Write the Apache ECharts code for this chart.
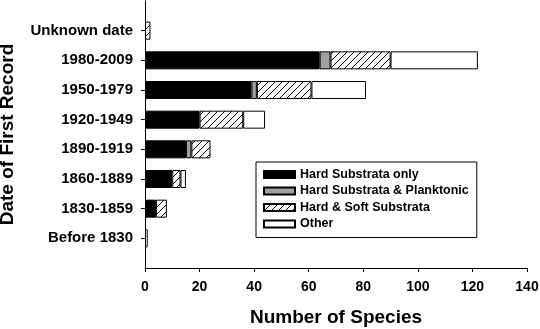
<!DOCTYPE html>
<html>
<head>
<meta charset="utf-8">
<script src="https://cdn.jsdelivr.net/npm/echarts@6/dist/echarts.min.js"></script>
<style>
  html, body { margin: 0; padding: 0; background: #fff; }
  #chart { width: 540px; height: 329px; }
</style>
</head>
<body>
<div id="chart"></div>
<script>
// categories bottom to top
const periods = ["Before 1830", "1830-1859", "1860-1889", "1890-1919", "1920-1949", "1950-1979", "1980-2009", "Unknown date"];
const hardOnly = [0, 4, 10, 15, 20, 39, 64, 0];
const hardPlanktonic = [0, 0, 0, 2, 0, 2, 4, 0];
const hardSoft = [0, 4, 3, 7, 16, 20, 22, 2];
const other = [1, 0, 2, 0, 8, 20, 32, 0];
const xTicks = [0, 20, 40, 60, 80, 100, 120, 140];

const font = "Liberation Sans, Arial, sans-serif";

// diagonal hatch fill
const makeHatch = () => {
  const s = 7;
  const c = document.createElement("canvas");
  c.width = s;
  c.height = s;
  const ctx = c.getContext("2d");
  ctx.fillStyle = "#fff";
  ctx.fillRect(0, 0, s, s);
  ctx.strokeStyle = "#000";
  ctx.lineWidth = 1;
  ctx.beginPath();
  ctx.moveTo(-1, s + 1); ctx.lineTo(s + 1, -1);
  ctx.moveTo(-1, 1); ctx.lineTo(1, -1);
  ctx.moveTo(s - 1, s + 1); ctx.lineTo(s + 1, s - 1);
  ctx.stroke();
  return c;
};

// pad with blank slots at both ends of the category axis
const pad = (arr) => [null].concat(arr.map((v) => (v ? v : null)), [null]);
const cats = [""].concat(periods, [""]);

const bar = (name, data, color) => ({
  name,
  type: "bar",
  stack: "total",
  barWidth: 18,
  data: pad(data),
  itemStyle: { color, borderColor: "#000", borderWidth: 1 },
  emphasis: { disabled: true },
});

const myChart = echarts.init(document.getElementById("chart"));
myChart.setOption({
  animation: false,
  textStyle: { fontFamily: font, color: "#000" },
  grid: { left: 145, right: 13, top: 1, bottom: 61, outerBoundsMode: "none" },
  legend: {
    orient: "vertical",
    left: 256,
    top: 162,
    icon: "rect",
    itemWidth: 31,
    itemHeight: 7,
    itemGap: 3.5,
    padding: [6, 8, 7, 7],
    borderColor: "#000",
    borderWidth: 1,
    textStyle: { fontFamily: font, fontSize: 12.5, fontWeight: "bold", color: "#000" },
    data: ["Hard Substrata only", "Hard Substrata & Planktonic", "Hard & Soft Substrata", "Other"],
  },
  xAxis: {
    type: "value",
    min: xTicks[0],
    max: xTicks[xTicks.length - 1],
    interval: 20,
    name: "Number of Species",
    nameLocation: "middle",
    nameGap: 40,
    nameTextStyle: { fontFamily: font, fontSize: 19, fontWeight: "bold", color: "#000" },
    splitLine: { show: false },
    axisLine: { show: true, lineStyle: { color: "#000", width: 1 } },
    axisTick: { show: true, length: 4, lineStyle: { color: "#000" } },
    axisLabel: { margin: 12, fontFamily: font, fontSize: 14, fontWeight: "bold", color: "#000" },
  },
  yAxis: {
    type: "category",
    data: cats,
    boundaryGap: false,
    name: "Date of First Record",
    nameLocation: "middle",
    nameRotate: 90,
    nameGap: 128,
    nameTextStyle: { fontFamily: font, fontSize: 19, fontWeight: "bold", color: "#000" },
    axisLine: { show: true, lineStyle: { color: "#000", width: 1 } },
    axisTick: {
      show: true,
      length: 4,
      interval: (i) => i > 0 && i < cats.length - 1,
      lineStyle: { color: "#000" },
    },
    axisLabel: { interval: 0, margin: 12, fontFamily: font, fontSize: 15, fontWeight: "bold", color: "#000" },
  },
  series: [
    bar("Hard Substrata only", hardOnly, "#000"),
    bar("Hard Substrata & Planktonic", hardPlanktonic, "#a0a0a0"),
    bar("Hard & Soft Substrata", hardSoft, { image: makeHatch(), repeat: "repeat" }),
    bar("Other", other, "#fff"),
  ],
});
</script>
</body>
</html>
